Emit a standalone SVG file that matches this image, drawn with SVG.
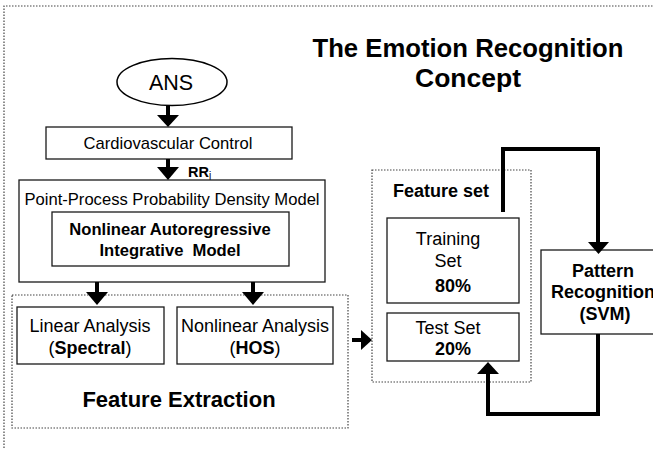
<svg xmlns="http://www.w3.org/2000/svg" width="653" height="449" viewBox="0 0 653 449">
  <style>
    text { font-family: "Liberation Sans", Arial, sans-serif; fill: #000; text-anchor: middle; }
    .box { fill: #fff; stroke: #1a1a1a; stroke-width: 1.3; }
    .frame { fill: none; stroke: #444; stroke-width: 1.2; stroke-dasharray: 1.5 1.5; }
    .b { font-weight: bold; }
    .wire { fill: none; stroke: #000; stroke-width: 4; }
  </style>

  <rect width="653" height="449" fill="#fff"/>

  <!-- outer dotted frame -->
  <path class="frame" d="M4,460 V6 H660"/>

  <g id="title">
    <text class="b" x="468" y="57" font-size="26.5" textLength="311" lengthAdjust="spacingAndGlyphs">The Emotion Recognition</text>
    <text class="b" x="468" y="87" font-size="26.5">Concept</text>
  </g>

  <g id="ans">
    <ellipse cx="172" cy="82" rx="55" ry="23.5" fill="#fff" stroke="#000" stroke-width="1.5"/>
    <text x="171" y="90" font-size="21.5">ANS</text>
  </g>

  <g id="cardio">
    <rect class="box" x="46" y="127" width="246" height="32"/>
    <text x="168" y="149" font-size="16.6">Cardiovascular Control</text>
  </g>

  <g id="rr-label">
    <text class="b" x="188" y="177" font-size="14.5" style="text-anchor:start">RR<tspan font-size="10" font-weight="normal" dy="2">j</tspan></text>
  </g>

  <g id="point-process">
    <rect class="box" x="19" y="180" width="306" height="102"/>
    <text x="172" y="205" font-size="16.6">Point-Process Probability Density Model</text>
  </g>

  <g id="narim">
    <rect class="box" x="52" y="212" width="237" height="54"/>
    <text class="b" x="170" y="235" font-size="16.6">Nonlinear Autoregressive</text>
    <text class="b" x="170" y="256" font-size="16.6" xml:space="preserve">Integrative  Model</text>
  </g>

  <g id="feature-extraction">
    <rect class="frame" x="12" y="295" width="336" height="133"/>
    <text class="b" x="179" y="407" font-size="22">Feature Extraction</text>
  </g>

  <g id="linear">
    <rect class="box" x="17" y="307" width="147" height="57"/>
    <text x="90" y="332" font-size="18">Linear Analysis</text>
    <text x="90" y="354" font-size="18">(<tspan class="b">Spectral</tspan>)</text>
  </g>

  <g id="nonlinear">
    <rect class="box" x="177" y="307" width="156" height="57"/>
    <text x="255" y="332" font-size="18">Nonlinear Analysis</text>
    <text x="255" y="354" font-size="18">(<tspan class="b">HOS</tspan>)</text>
  </g>

  <g id="feature-set">
    <rect class="frame" x="372" y="170" width="159" height="212"/>
    <text class="b" x="441" y="197" font-size="18">Feature set</text>
  </g>

  <g id="training">
    <rect class="box" x="387" y="218" width="132" height="85"/>
    <text x="448" y="245" font-size="18">Training</text>
    <text x="448" y="267" font-size="18">Set</text>
    <text class="b" x="453" y="292" font-size="18">80%</text>
  </g>

  <g id="test">
    <rect class="box" x="387" y="313" width="132" height="48"/>
    <text x="448" y="334" font-size="18">Test Set</text>
    <text class="b" x="453" y="355" font-size="18">20%</text>
  </g>

  <g id="pattern">
    <rect class="box" x="541" y="250" width="130" height="84"/>
    <text class="b" x="603" y="277" font-size="18">Pattern</text>
    <text class="b" x="603" y="298" font-size="18">Recognition</text>
    <text class="b" x="605" y="320" font-size="18">(SVM)</text>
  </g>

  <g id="connectors">
    <!-- short block arrows -->
    <g fill="#000">
      <rect x="166" y="105" width="4" height="11"/>
      <path d="M157,115 H179 L168,127 Z"/>
      <rect x="166" y="159" width="4" height="9"/>
      <path d="M157,167 H179 L168,180 Z"/>
      <rect x="95" y="282" width="4" height="11"/>
      <path d="M86,292 H108 L97,305 Z"/>
      <rect x="251" y="282" width="4" height="11"/>
      <path d="M242,292 H264 L253,305 Z"/>
      <rect x="352" y="338" width="10" height="4"/>
      <path d="M361,330 V350 L372,340 Z"/>
    </g>
    <!-- training set to classifier -->
    <path class="wire" d="M503,212 V149 H598 V244"/>
    <path d="M588,242 H609 L598.5,254 Z" fill="#000"/>
    <!-- classifier back to test set -->
    <path class="wire" d="M598,334 V414 H488 V372"/>
    <path d="M477,374 H499 L488,362 Z" fill="#000"/>
  </g>
</svg>
